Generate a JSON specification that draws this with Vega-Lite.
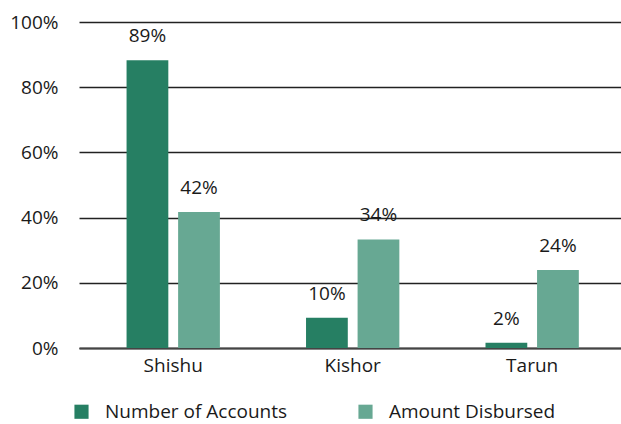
{
  "$schema": "https://vega.github.io/schema/vega-lite/v6.json",
  "width": 542,
  "height": 326,
  "autosize": {"type": "none"},
  "padding": {"left": 79, "top": 22, "right": 0, "bottom": 76},
  "background": "white",
  "config": {
    "view": {"stroke": null},
    "font": "Open Sans",
    "axis": {"labelFont": "Open Sans", "labelColor": "#1a1a1a"},
    "legend": {"labelFont": "Open Sans", "labelColor": "#1a1a1a"}
  },
  "data": {
    "values": [
      {"category": "Shishu", "series": "Number of Accounts", "value": 88.3, "label": "89%"},
      {"category": "Shishu", "series": "Amount Disbursed", "value": 41.7, "label": "42%"},
      {"category": "Kishor", "series": "Number of Accounts", "value": 9.3, "label": "10%"},
      {"category": "Kishor", "series": "Amount Disbursed", "value": 33.3, "label": "34%"},
      {"category": "Tarun", "series": "Number of Accounts", "value": 1.6, "label": "2%"},
      {"category": "Tarun", "series": "Amount Disbursed", "value": 23.9, "label": "24%"}
    ]
  },
  "encoding": {
    "x": {
      "field": "category",
      "type": "nominal",
      "sort": ["Shishu", "Kishor", "Tarun"],
      "scale": {"paddingInner": 0.48, "paddingOuter": 0.25, "align": 0.53},
      "axis": {
        "title": null,
        "labelAngle": 0,
        "labelFontSize": 19,
        "labelPadding": 8,
        "ticks": false,
        "domainColor": "#444444",
        "domainWidth": 2
      }
    },
    "xOffset": {
      "field": "series",
      "type": "nominal",
      "sort": ["Number of Accounts", "Amount Disbursed"],
      "scale": {"paddingInner": 0.19, "paddingOuter": 0}
    },
    "y": {
      "field": "value",
      "type": "quantitative",
      "scale": {"domain": [0, 100]},
      "axis": {
        "title": null,
        "values": [0, 20, 40, 60, 80, 100],
        "labelExpr": "datum.value + '%'",
        "labelFontSize": 19,
        "labelPadding": 21,
        "ticks": false,
        "domain": false,
        "grid": true,
        "gridColor": "#222222",
        "gridWidth": 1.5
      }
    }
  },
  "layer": [
    {
      "mark": {"type": "bar"},
      "encoding": {
        "color": {
          "field": "series",
          "type": "nominal",
          "sort": ["Number of Accounts", "Amount Disbursed"],
          "scale": {"domain": ["Number of Accounts", "Amount Disbursed"], "range": ["#267F63", "#67A893"]},
          "legend": {
            "title": null,
            "orient": "none",
            "direction": "horizontal",
            "legendX": -7,
            "legendY": 380,
            "symbolType": "square",
            "symbolSize": 200,
            "symbolStrokeWidth": 0,
            "labelFontSize": 19,
            "labelOffset": 14,
            "columnPadding": 68,
            "labelLimit": 300
          }
        }
      }
    },
    {
      "mark": {"type": "text", "baseline": "bottom", "dy": -14, "fontSize": 19, "color": "#1a1a1a"},
      "encoding": {"text": {"field": "label"}}
    }
  ]
}
